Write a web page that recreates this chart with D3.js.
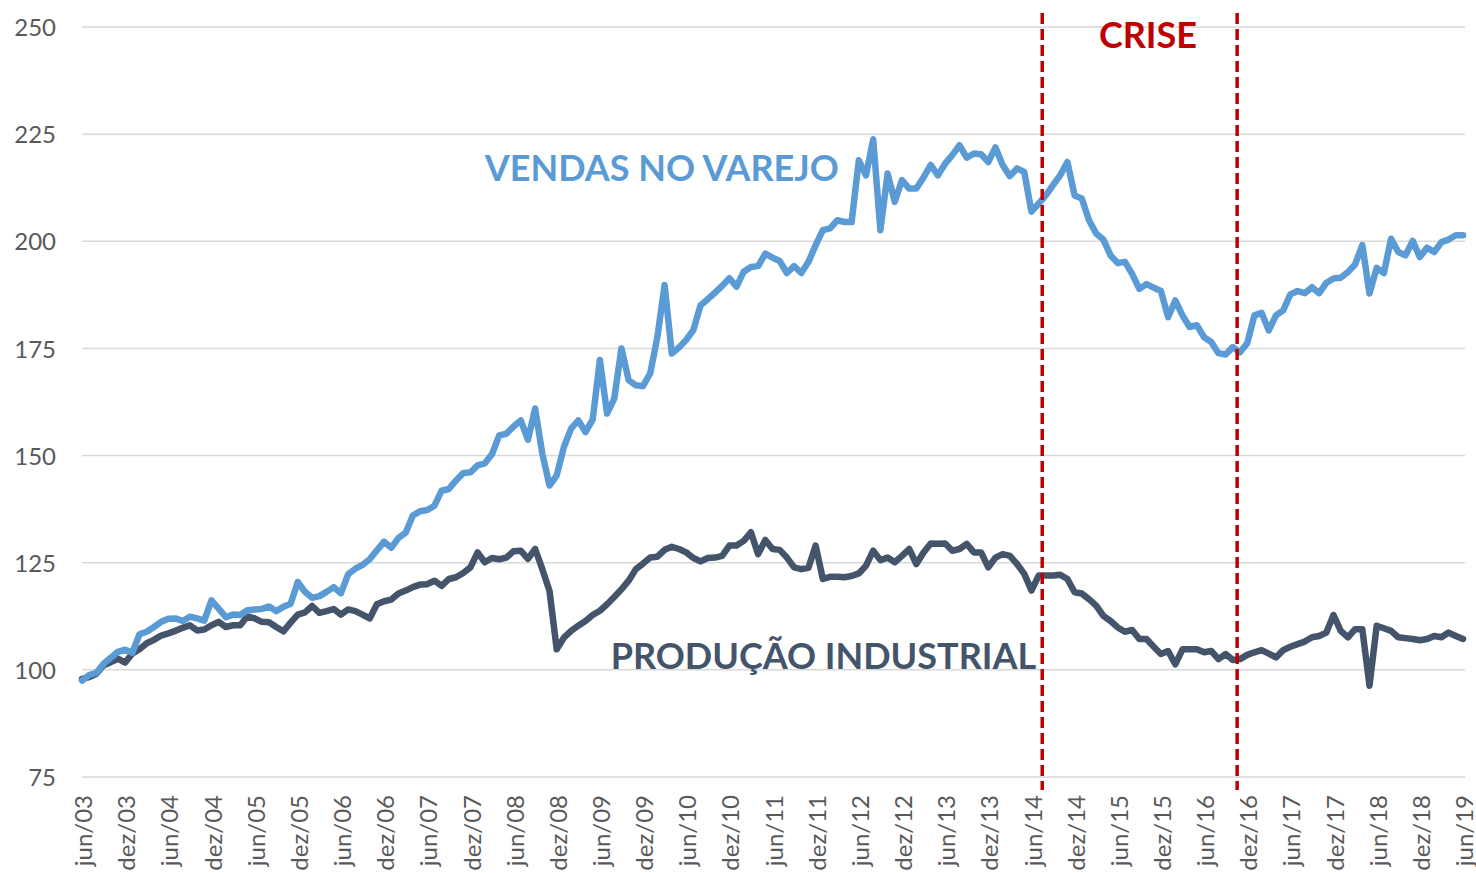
<!DOCTYPE html>
<html>
<head>
<meta charset="utf-8">
<script src="https://cdn.jsdelivr.net/npm/d3@7"></script>
<style>
  html, body { margin: 0; padding: 0; background: #ffffff; }
  svg { display: block; }
  text { font-family: Lato, "Open Sans", sans-serif; }
</style>
</head>
<body>
<svg id="chart" width="1476" height="873"></svg>
<script>
// ---- DATA (monthly, jun/03 .. jun/19, index 0..192) ----
const vendasVarejo = [
  97.5, 98.8, 99.3, 101.4, 102.8, 104.2, 104.7, 104.0, 108.3, 108.9, 110.0, 111.2,
  111.9, 112.0, 111.4, 112.4, 112.0, 111.5, 116.2, 114.3, 112.3, 112.9, 112.8, 113.9,
  114.1, 114.2, 114.8, 113.7, 114.7, 115.4, 120.5, 118.2, 116.8, 117.2, 118.2, 119.3,
  117.9, 122.3, 123.6, 124.5, 125.8, 127.9, 129.9, 128.5, 130.8, 132.0, 136.0, 137.0,
  137.3, 138.3, 141.8, 142.2, 144.2, 145.9, 146.1, 147.7, 148.2, 150.3, 154.7, 155.1,
  156.8, 158.2, 153.7, 161.0, 150.4, 143.0, 145.4, 152.0, 156.3, 158.2, 155.5, 158.4,
  172.3, 159.8, 163.3, 175.0, 167.6, 166.4, 166.2, 169.2, 177.7, 189.8, 173.8, 175.2,
  177.0, 179.3, 185.1, 186.5, 188.0, 189.6, 191.4, 189.4, 192.9, 194.0, 194.2, 197.1,
  196.2, 195.4, 192.6, 194.2, 192.6, 195.2, 199.1, 202.6, 203.0, 204.9, 204.5, 204.5,
  218.9, 215.4, 223.8, 202.6, 215.8, 209.2, 214.3, 212.3, 212.3, 214.9, 217.8, 215.4,
  218.1, 220.1, 222.4, 219.5, 220.5, 220.3, 218.5, 221.9, 217.8, 215.2, 217.0, 216.2,
  206.9, 208.8, 210.7, 213.1, 215.4, 218.5, 210.7, 210.0, 204.9, 201.8, 200.4, 196.7,
  194.9, 195.2, 192.4, 188.9, 190.0, 189.2, 188.4, 182.3, 186.2, 182.7, 180.0, 180.4,
  177.6, 176.5, 173.9, 173.6, 175.3, 174.1, 176.2, 182.7, 183.3, 179.2, 182.7, 183.9,
  187.6, 188.4, 187.9, 189.3, 187.9, 190.3, 191.3, 191.5, 192.8, 194.6, 199.1, 187.8,
  193.8, 192.6, 200.6, 197.5, 196.7, 200.1, 196.3, 198.5, 197.5, 199.8, 200.4, 201.4,
  201.4
];
const producaoIndustrial = [
  97.9, 98.3, 99.1, 101.1, 101.8, 102.6, 101.7, 103.8, 104.8, 106.2, 107.0, 108.0,
  108.5, 109.1, 109.8, 110.4, 109.2, 109.4, 110.4, 111.2, 110.0, 110.4, 110.4, 112.5,
  112.0, 111.2, 111.1, 110.0, 109.0, 111.0, 112.9, 113.4, 114.9, 113.3, 113.7, 114.2,
  112.9, 114.1, 113.7, 112.9, 112.0, 115.3, 116.0, 116.4, 117.8, 118.5, 119.3, 119.9,
  120.0, 120.8, 119.6, 121.2, 121.6, 122.6, 123.9, 127.4, 125.1, 126.1, 125.8, 126.2,
  127.7, 127.8, 125.9, 128.2, 123.5, 118.4, 104.8, 107.5, 109.1, 110.3, 111.4, 112.8,
  113.8, 115.3, 117.0, 118.8, 120.8, 123.5, 124.8, 126.2, 126.4, 128.0, 128.7, 128.2,
  127.4, 126.1, 125.3, 126.1, 126.2, 126.6, 129.0, 129.0, 130.1, 132.1, 127.0, 130.3,
  128.2, 128.0, 126.2, 123.9, 123.5, 123.8, 129.0, 121.2, 121.7, 121.7, 121.6, 121.9,
  122.5, 124.3, 127.8, 125.6, 126.2, 125.1, 126.6, 128.2, 124.7, 127.4, 129.5, 129.4,
  129.5, 127.8, 128.2, 129.4, 127.4, 127.4, 123.9, 126.2, 127.0, 126.6, 124.7, 122.4,
  118.5, 122.0, 122.0, 122.0, 122.2, 121.2, 118.1, 117.8, 116.5, 115.0, 112.6, 111.4,
  109.9, 108.9, 109.3, 107.2, 107.2, 105.4, 103.7, 104.4, 101.3, 104.8, 104.8, 104.8,
  104.1, 104.4, 102.5, 103.7, 102.3, 102.5, 103.5, 104.1, 104.6, 103.8, 102.9, 104.6,
  105.4, 106.0, 106.6, 107.6, 107.9, 108.7, 112.8, 109.1, 107.6, 109.5, 109.5, 96.3,
  110.3, 109.7, 109.1, 107.6, 107.4, 107.2, 106.9, 107.2, 107.9, 107.6, 108.7, 107.9,
  107.2
];
// x tick labels, one every 6 months (index step 6)
const tickLabels = [
  "jun/03","dez/03","jun/04","dez/04","jun/05","dez/05","jun/06","dez/06","jun/07","dez/07",
  "jun/08","dez/08","jun/09","dez/09","jun/10","dez/10","jun/11","dez/11","jun/12","dez/12",
  "jun/13","dez/13","jun/14","dez/14","jun/15","dez/15","jun/16","dez/16","jun/17","dez/17",
  "jun/18","dez/18","jun/19"
];
const tickStep = 6;
const yTicks = [75, 100, 125, 150, 175, 200, 225, 250];
// crisis markers (month index)
const crisisMarkers = [133.5, 160.6];
// annotations: text, month index, value (baseline)
const annotations = [
  { text: "VENDAS NO VAREJO", i: 56.0, v: 214.0, color: "#5B9BD5", anchor: "start" },
  { text: "PRODUÇÃO INDUSTRIAL", i: 73.5, v: 100.3, color: "#44546A", anchor: "start" },
  { text: "CRISE", i: 148.2, v: 245.2, color: "#C00000", anchor: "middle" }
];

// ---- CHART ----
const svg = d3.select("#chart");
const x0 = 82, x1 = 1463, yTop = 27, yBot = 777;

const x = d3.scaleLinear().domain([0, vendasVarejo.length - 1]).range([x0, x1]);
const y = d3.scaleLinear().domain([75, 250]).range([yBot, yTop]);

// gridlines
svg.append("g")
  .selectAll("line")
  .data(yTicks)
  .join("line")
  .attr("x1", x0)
  .attr("x2", x1 + 2)
  .attr("y1", d => y(d))
  .attr("y2", d => y(d))
  .attr("stroke", "#D9D9D9")
  .attr("stroke-width", 1.5);

// y axis labels
const yAxis = d3.axisLeft(y).tickValues(yTicks).tickSize(0).tickPadding(0);
const gy = svg.append("g").attr("transform", `translate(${56},0)`).call(yAxis);
gy.select(".domain").remove();
gy.selectAll("text")
  .attr("font-family", "Lato, 'Open Sans', sans-serif")
  .attr("font-size", 24)
  .attr("fill", "#595959")
  .attr("dy", "0.36em");

// x axis labels (rotated)
const xTickVals = tickLabels.map((_, k) => k * tickStep);
const xAxis = d3.axisBottom(x).tickValues(xTickVals)
  .tickFormat((d, k) => tickLabels[k]).tickSize(0).tickPadding(0);
const gx = svg.append("g").attr("transform", `translate(0,${yBot})`).call(xAxis);
gx.select(".domain").remove();
gx.selectAll("text")
  .attr("font-family", "Lato, 'Open Sans', sans-serif")
  .attr("font-size", 24)
  .attr("fill", "#595959")
  .attr("text-anchor", "end")
  .attr("transform", "translate(0,18) rotate(-90)")
  .attr("x", 0)
  .attr("y", 0)
  .attr("dy", "0.40em");

// lines
const line = d3.line().x((d, i) => x(i)).y(d => y(d)).curve(d3.curveLinear);

svg.append("path")
  .datum(producaoIndustrial)
  .attr("d", line)
  .attr("fill", "none")
  .attr("stroke", "#44546A")
  .attr("stroke-width", 6.5)
  .attr("stroke-linejoin", "round")
  .attr("stroke-linecap", "round");

svg.append("path")
  .datum(vendasVarejo)
  .attr("d", line)
  .attr("fill", "none")
  .attr("stroke", "#5B9BD5")
  .attr("stroke-width", 6.5)
  .attr("stroke-linejoin", "round")
  .attr("stroke-linecap", "round");

// crisis dashed lines
svg.append("g")
  .selectAll("line")
  .data(crisisMarkers)
  .join("line")
  .attr("x1", d => x(d))
  .attr("x2", d => x(d))
  .attr("y1", 13)
  .attr("y2", 790)
  .attr("stroke", "#C00000")
  .attr("stroke-width", 3.5)
  .attr("stroke-dasharray", "11,5");

// annotations
svg.append("g")
  .selectAll("text")
  .data(annotations)
  .join("text")
  .attr("x", d => x(d.i))
  .attr("y", d => y(d.v))
  .attr("text-anchor", d => d.anchor)
  .attr("font-family", "Lato, 'Open Sans', sans-serif")
  .attr("font-weight", "bold")
  .attr("font-size", 36)
  .attr("fill", d => d.color)
  .text(d => d.text);
</script>
</body>
</html>
